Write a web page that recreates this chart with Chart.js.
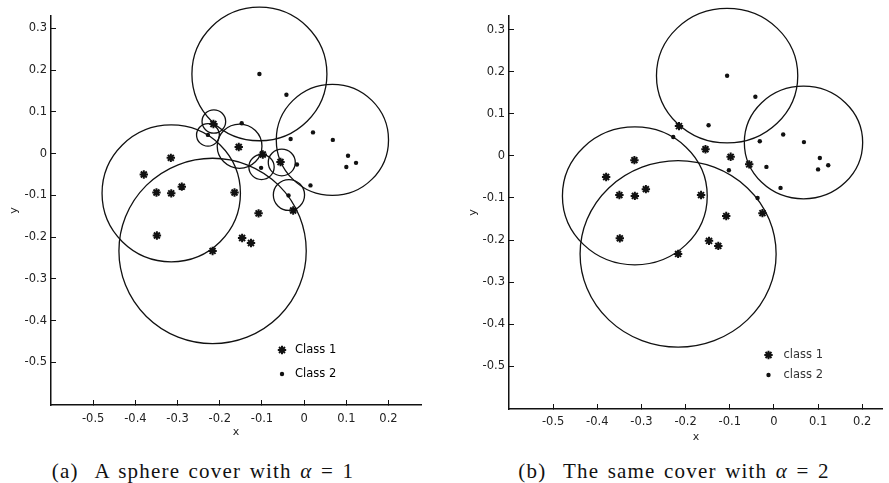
<!DOCTYPE html>
<html>
<head>
<meta charset="utf-8">
<script src="https://cdn.jsdelivr.net/npm/chart.js@4.4.0/dist/chart.umd.min.js"></script>
<style>
  body { margin: 0; background: #fff; width: 889px; height: 483px; overflow: hidden; position: relative; }
  canvas { position: absolute; top: 0; }
  .cap { position: absolute; top: 459px; font-family: "Liberation Serif", serif; font-size: 21px; letter-spacing: 1.2px; word-spacing: 2px; color: #111; white-space: nowrap; transform: translateX(-50%); }
  .cap i { font-style: italic; }
</style>
</head>
<body>
<canvas id="chartA" width="440" height="450" style="left:0"></canvas>
<canvas id="chartB" width="449" height="450" style="left:440px"></canvas>
<div class="cap" style="left:203px">(a)&nbsp; A sphere cover with <i>α</i> = 1</div>
<div class="cap" style="left:674px">(b)&nbsp; The same cover with <i>α</i> = 2</div>
<script>
// points of the two classes (same in both panels)
const class1X = [-0.215, -0.155, -0.098, -0.056, -0.380, -0.316, -0.350, -0.315, -0.290, -0.165, -0.349, -0.108, -0.026, -0.147, -0.126, -0.217];
const class1Y = [0.071, 0.016, -0.002, -0.020, -0.050, -0.010, -0.093, -0.095, -0.079, -0.093, -0.196, -0.143, -0.136, -0.202, -0.214, -0.233];
const class2X = [-0.106, -0.042, -0.148, -0.228, -0.032, 0.021, 0.068, 0.104, 0.123, 0.100, -0.017, 0.015, -0.102, -0.037];
const class2Y = [0.191, 0.141, 0.073, 0.045, 0.035, 0.051, 0.033, -0.005, -0.022, -0.032, -0.026, -0.076, -0.034, -0.100];

// sphere cover, alpha = 1
const coverAX = [-0.106, 0.067, -0.315, -0.217, -0.214, -0.228, -0.153, -0.101, -0.053, -0.036];
const coverAY = [0.191, 0.033, -0.095, -0.233, 0.077, 0.045, 0.018, -0.032, -0.021, -0.099];
const coverAR = [0.160, 0.133, 0.164, 0.222, 0.028, 0.027, 0.053, 0.030, 0.032, 0.037];

// same cover, alpha = 2
const coverBX = [-0.106, 0.067, -0.315, -0.217];
const coverBY = [0.191, 0.032, -0.095, -0.233];
const coverBR = [0.160, 0.134, 0.164, 0.222];

const xTicks = [-0.5, -0.4, -0.3, -0.2, -0.1, 0, 0.1, 0.2];
const xTickLabels = ['-0.5', '-0.4', '-0.3', '-0.2', '-0.1', '0', '0.1', '0.2'];
const yTicks = [-0.5, -0.4, -0.3, -0.2, -0.1, 0, 0.1, 0.2, 0.3];
const yTickLabels = ['-0.5', '-0.4', '-0.3', '-0.2', '-0.1', '0', '0.1', '0.2', '0.3'];

const ink = '#111';

function pts(xs, ys) {
    return xs.map((x, i) => ({x: x, y: ys[i]}));
}

// circles drawn in data units through the chart scales
const spheres = {
    id: 'spheres',
    beforeDatasetsDraw(chart, args, opts) {
        const ctx = chart.ctx, sx = chart.scales.x, sy = chart.scales.y;
        ctx.save();
        ctx.strokeStyle = ink;
        ctx.lineWidth = 1.3;
        opts.cx.forEach((cx, i) => {
            const px = sx.getPixelForValue(cx);
            const py = sy.getPixelForValue(opts.cy[i]);
            const rx = Math.abs(sx.getPixelForValue(cx + opts.r[i]) - px);
            const ry = Math.abs(sy.getPixelForValue(opts.cy[i] + opts.r[i]) - py);
            ctx.beginPath();
            ctx.ellipse(px, py, rx, ry, 0, 0, 2 * Math.PI);
            ctx.stroke();
        });
        ctx.restore();
    }
};

// small legend inside the axes
const key = {
    id: 'key',
    afterDraw(chart, args, opts) {
        const ctx = chart.ctx;
        ctx.save();
        ctx.font = opts.font;
        ctx.textBaseline = 'middle';
        chart.data.datasets.forEach((ds, i) => {
            const y = opts.y + i * opts.dy;
            ctx.fillStyle = ds.backgroundColor;
            ctx.strokeStyle = ds.borderColor;
            ctx.lineWidth = ds.borderWidth;
            Chart.helpers.drawPoint(ctx, {pointStyle: ds.pointStyle, radius: ds.pointRadius, borderWidth: ds.borderWidth, rotation: 0}, opts.x, y);
            ctx.fillStyle = opts.color;
            ctx.fillText(ds.label, opts.x + opts.tx, y);
        });
        ctx.restore();
    }
};

function makeChart(id, cfg) {
    const tickFont = {family: 'DejaVu Sans', size: 11.5};
    return new Chart(id, {
        type: 'scatter',
        data: {
            datasets: [{
                label: cfg.labels[0],
                data: pts(class1X, class1Y),
                pointStyle: 'star',
                pointRadius: 4.2,
                borderWidth: 2,
                borderColor: ink,
                backgroundColor: ink
            }, {
                label: cfg.labels[1],
                data: pts(class2X, class2Y),
                pointStyle: 'circle',
                pointRadius: 2.2,
                borderWidth: 0,
                borderColor: ink,
                backgroundColor: ink
            }]
        },
        options: {
            responsive: false,
            devicePixelRatio: 1,
            animation: false,
            events: [],
            layout: {padding: {left: 0, top: cfg.top, right: cfg.right, bottom: 0}},
            plugins: {
                legend: {display: false},
                tooltip: {enabled: false},
                spheres: cfg.cover,
                key: cfg.key
            },
            scales: {
                x: {
                    type: 'linear',
                    min: -0.6,
                    max: cfg.xmax,
                    afterBuildTicks: s => { s.ticks = xTicks.map(v => ({value: v})); },
                    afterFit: s => { s.height = cfg.xh; },
                    ticks: {
                        color: '#222',
                        font: tickFont,
                        padding: cfg.xpad,
                        callback: (v, i) => xTickLabels[i]
                    },
                    grid: {drawOnChartArea: false, drawTicks: true, tickLength: -5, color: ink},
                    border: {display: true, color: ink, width: 1.5},
                    title: {display: true, text: 'x', color: '#222', font: {family: 'DejaVu Sans', size: 11}, padding: {top: 0, bottom: cfg.xtp}}
                },
                y: {
                    type: 'linear',
                    min: -0.602,
                    max: cfg.ymax,
                    afterBuildTicks: s => { s.ticks = yTicks.map(v => ({value: v})); },
                    afterFit: s => { s.width = cfg.yw; },
                    ticks: {
                        color: '#222',
                        font: tickFont,
                        padding: 9,
                        callback: (v, i) => yTickLabels[i]
                    },
                    grid: {drawOnChartArea: false, drawTicks: true, tickLength: -5, color: ink},
                    border: {display: true, color: ink, width: 1.5},
                    title: {display: true, text: 'y', color: '#222', font: {family: 'DejaVu Sans', size: 11}, padding: {top: cfg.ytp, bottom: 0}}
                }
            }
        },
        plugins: [spheres, key]
    });
}

makeChart('chartA', {
    labels: ['Class 1', 'Class 2'],
    top: 14, right: 19, xmax: 0.277, ymax: 0.33,
    xh: 45, yw: 51, xpad: 12, xtp: 11, ytp: 8,
    cover: {cx: coverAX, cy: coverAY, r: coverAR},
    key: {x: 282, y: 350, dy: 24, tx: 13, font: '11.5px "DejaVu Sans"', color: '#000'}
});

makeChart('chartB', {
    labels: ['class 1', 'class 2'],
    top: 16, right: 0, xmax: 0.2466, ymax: 0.333,
    xh: 41, yw: 69, xpad: 11.5, xtp: 6.5, ytp: 27,
    cover: {cx: coverBX, cy: coverBY, r: coverBR},
    key: {x: 328.5, y: 355, dy: 20, tx: 15, font: '11.5px "DejaVu Sans"', color: '#333'}
});
</script>
</body>
</html>
